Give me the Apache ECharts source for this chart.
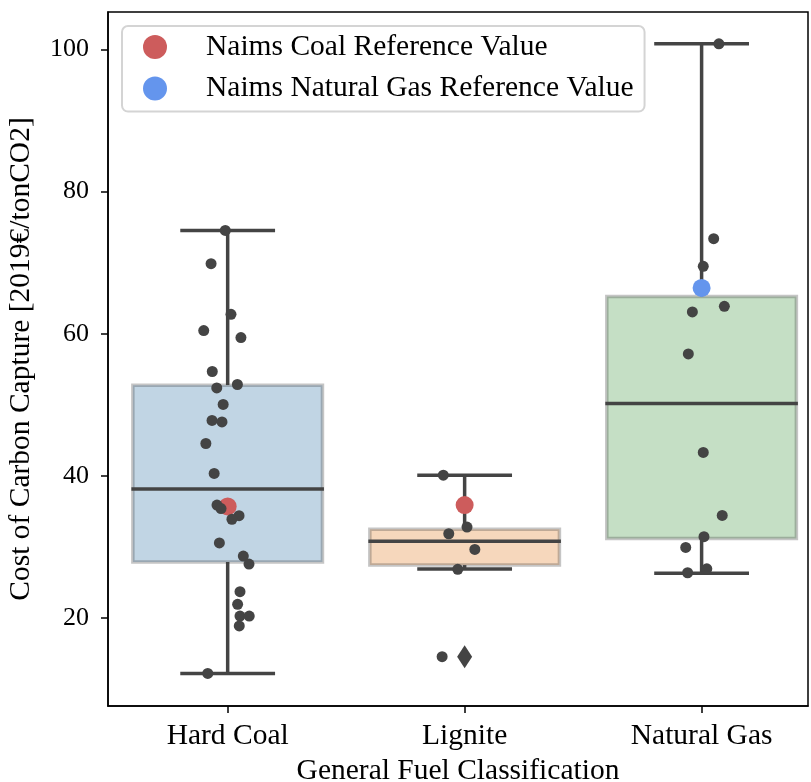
<!DOCTYPE html>
<html>
<head>
<meta charset="utf-8">
<script src="https://cdn.jsdelivr.net/npm/echarts@6/dist/echarts.min.js"></script>
<style>
  html, body { margin: 0; padding: 0; background: #fff; }
  #chart { width: 811px; height: 782px; }
</style>
</head>
<body>
<div id="chart"></div>
<script>
const categories = ['Hard Coal', 'Lignite', 'Natural Gas'];

// box statistics
const whiskerLow = [12.2, 26.9, 26.3];
const boxQ1 = [27.9, 27.45, 31.2];
const boxMedian = [38.15, 30.8, 50.2];
const boxQ3 = [52.75, 32.5, 65.25];
const whiskerHigh = [74.55, 40.1, 100.8];

// strip points (value + jitter in category units)
const hardCoalValues = [74.55, 69.87, 62.74, 60.45, 59.47, 54.69, 52.86, 52.38, 50.05, 47.8, 47.6, 44.56, 40.34,
  35.9, 35.4, 34.4, 33.9, 30.56, 28.72, 27.59, 23.7, 21.93, 20.28, 20.28, 18.88, 12.2];
const hardCoalJitter = [-0.010, -0.070, 0.014, -0.101, 0.056, -0.065, 0.041, -0.046, -0.019, -0.066, -0.024, -0.092, -0.057,
  -0.045, -0.028, 0.048, 0.018, -0.035, 0.066, 0.090, 0.052, 0.042, 0.052, 0.091, 0.049, -0.084];
const ligniteValues = [40.1, 32.8, 31.86, 29.65, 26.85, 14.56];
const ligniteJitter = [-0.090, 0.010, -0.067, 0.043, -0.029, -0.095];
const gasValues = [100.8, 73.38, 69.49, 63.87, 63.07, 57.16, 43.3, 34.44, 31.44, 29.94, 26.93, 26.37];
const gasJitter = [0.073, 0.051, 0.007, 0.096, -0.039, -0.056, 0.007, 0.087, 0.010, -0.067, 0.022, -0.059];

// box outliers (category index, value)
const outlierCategory = [1];
const outlierValue = [14.56];

// Naims reference values
const coalRefCategory = [0, 1];
const coalRefValue = [35.7, 35.9];
const gasRefCategory = [2];
const gasRefValue = [66.45];

const yTicks = [20, 40, 60, 80, 100];

const fontFamily = "'Liberation Serif', 'DejaVu Serif', serif";
const boxFill = ['#c1d5e4', '#f6d7bc', '#c5dfc5'];
const darkGray = '#444444';

const chart = echarts.init(document.getElementById('chart'));

const boxData = categories.map((c, i) => [i, whiskerLow[i], boxQ1[i], boxMedian[i], boxQ3[i], whiskerHigh[i]]);

const stripData = [];
[[hardCoalValues, hardCoalJitter], [ligniteValues, ligniteJitter], [gasValues, gasJitter]].forEach(([vals, jit], i) => {
  vals.forEach((v, j) => stripData.push([i + jit[j], v]));
});

const renderBox = (params, api) => {
  const x = api.value(0);
  const low = api.coord([x, api.value(1)]);
  const q1 = api.coord([x, api.value(2)]);
  const med = api.coord([x, api.value(3)]);
  const q3 = api.coord([x, api.value(4)]);
  const high = api.coord([x, api.value(5)]);
  const boxW = api.size([0.8, 0])[0];
  const capW = api.size([0.4, 0])[0];
  const cx = med[0];
  const ls = { stroke: darkGray, lineWidth: 3.5 };
  return {
    type: 'group',
    children: [
      { type: 'line', shape: { x1: cx, y1: q3[1], x2: cx, y2: high[1] }, style: ls },
      { type: 'line', shape: { x1: cx, y1: q1[1], x2: cx, y2: low[1] }, style: ls },
      { type: 'line', shape: { x1: cx - capW / 2, y1: high[1], x2: cx + capW / 2, y2: high[1] }, style: ls },
      { type: 'line', shape: { x1: cx - capW / 2, y1: low[1], x2: cx + capW / 2, y2: low[1] }, style: ls },
      {
        type: 'rect',
        shape: { x: cx - boxW / 2, y: q3[1], width: boxW, height: q1[1] - q3[1] },
        style: { fill: boxFill[params.dataIndex], stroke: 'rgba(64,64,64,0.3)', lineWidth: 3.5 },
      },
      { type: 'line', shape: { x1: cx - boxW / 2 - 1.5, y1: med[1], x2: cx + boxW / 2 + 1.5, y2: med[1] }, style: ls },
    ],
  };
};

const option = {
  animation: false,
  backgroundColor: '#fff',
  textStyle: { fontFamily },
  grid: {
    left: 108, top: 12, width: 700, height: 694,
    outerBoundsMode: 'none',
    show: true, borderColor: '#000', borderWidth: 1.5, backgroundColor: 'transparent',
  },
  legend: {
    data: ['Naims Coal Reference Value', 'Naims Natural Gas Reference Value'],
    orient: 'vertical',
    left: 122, top: 26,
    padding: [6, 11, 8, 21],
    itemGap: 11.6,
    itemWidth: 34, itemHeight: 24,
    icon: 'circle',
    backgroundColor: 'rgba(255,255,255,0.8)',
    borderColor: '#d4d4d4', borderWidth: 2, borderRadius: 6,
    textStyle: { fontFamily, fontSize: 29.5, color: '#000', lineHeight: 30, padding: [0, 0, 0, 29] },
  },
  xAxis: {
    type: 'value',
    min: -0.505, max: 2.449,
    name: 'General Fuel Classification',
    nameLocation: 'middle', nameGap: 50,
    nameTextStyle: { fontFamily, fontSize: 29.5, color: '#000' },
    axisLine: { show: true, onZero: false, lineStyle: { color: '#000', width: 1.5 } },
    axisTick: { show: true, length: 7, customValues: [0, 1, 2], lineStyle: { color: '#000', width: 1.5 } },
    axisLabel: {
      customValues: [0, 1, 2], margin: 15,
      formatter: (v) => categories[Math.round(v)] || '',
      fontFamily, fontSize: 29.5, color: '#000',
    },
    splitLine: { show: false },
  },
  yAxis: {
    type: 'value',
    min: 7.62, max: 105.28,
    name: 'Cost of Carbon Capture [2019€/tonCO2]',
    nameLocation: 'middle', nameGap: 72,
    nameTextStyle: { fontFamily, fontSize: 29.5, color: '#000' },
    axisLine: { show: true, onZero: false, lineStyle: { color: '#000', width: 1.5 } },
    axisTick: { show: true, length: 7, customValues: yTicks, lineStyle: { color: '#000', width: 1.5 } },
    axisLabel: { customValues: yTicks, margin: 19, fontFamily, fontSize: 26, color: '#000' },
    splitLine: { show: false },
  },
  series: [
    {
      name: 'boxes',
      type: 'custom',
      renderItem: renderBox,
      encode: { x: 0, y: [1, 2, 3, 4, 5] },
      data: boxData,
      z: 2,
      silent: true,
    },
    {
      name: 'Naims Coal Reference Value',
      type: 'scatter',
      symbol: 'circle',
      symbolSize: 18,
      itemStyle: { color: '#cd5c5c', opacity: 1 },
      data: coalRefCategory.map((c, i) => [c, coalRefValue[i]]),
      z: 3,
    },
    {
      name: 'Naims Natural Gas Reference Value',
      type: 'scatter',
      symbol: 'circle',
      symbolSize: 18,
      itemStyle: { color: '#6495ed', opacity: 1 },
      data: gasRefCategory.map((c, i) => [c, gasRefValue[i]]),
      z: 3,
    },
    {
      name: 'strip',
      type: 'scatter',
      symbol: 'circle',
      symbolSize: 11,
      itemStyle: { color: darkGray, opacity: 1 },
      data: stripData,
      z: 4,
    },
    {
      name: 'outliers',
      type: 'scatter',
      symbol: 'diamond',
      symbolSize: [15, 23],
      itemStyle: { color: darkGray, opacity: 1 },
      data: outlierCategory.map((c, i) => [c, outlierValue[i]]),
      z: 4,
    },
  ],
};

chart.setOption(option);
window.addEventListener('resize', () => chart.resize());
</script>
</body>
</html>
